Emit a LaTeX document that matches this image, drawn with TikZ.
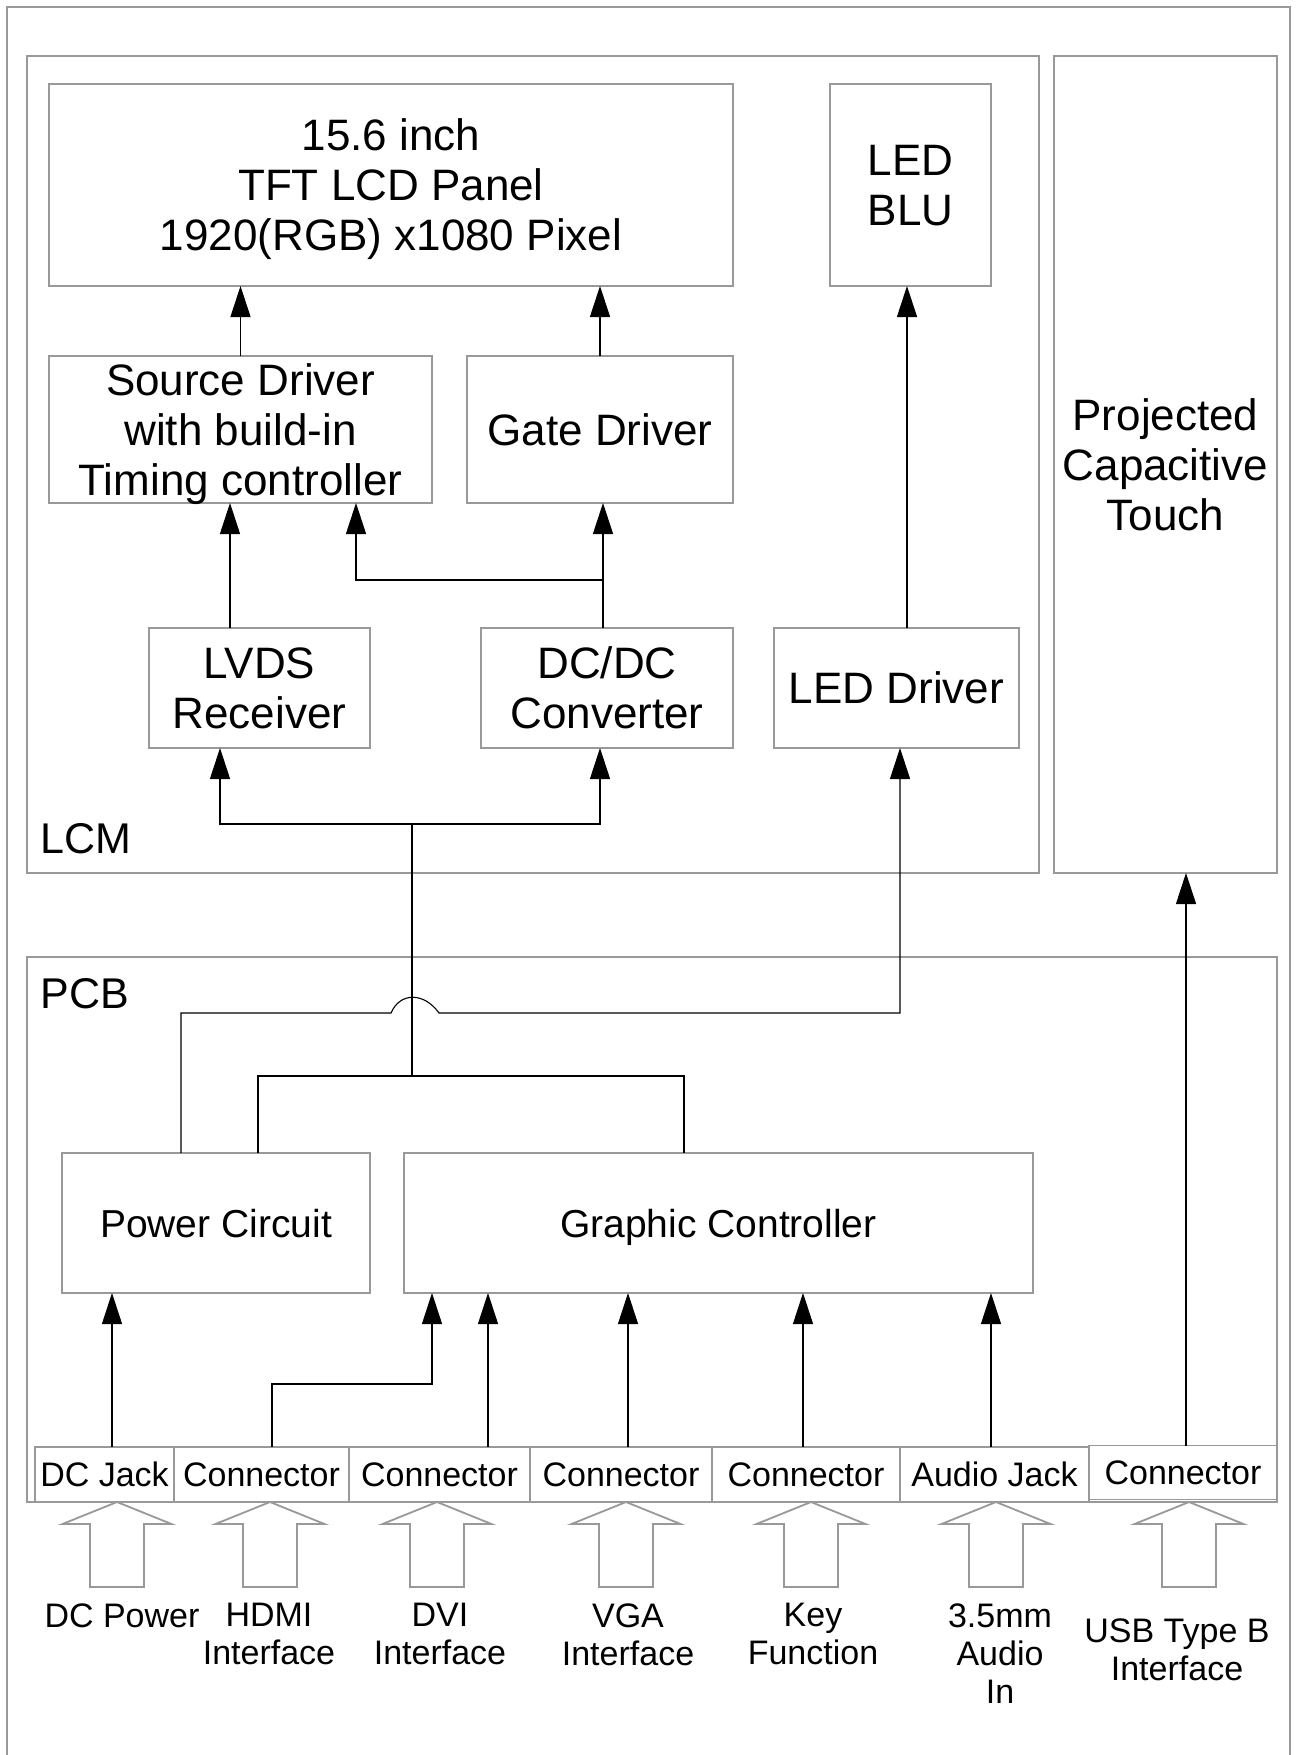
\documentclass[tikz,border=0pt]{standalone}
\usepackage{fontspec}
\setmainfont{Liberation Sans}
\usetikzlibrary{arrows.meta,positioning}

\begin{document}
\begin{tikzpicture}[
    x=0.5pt, y=-0.5pt,
    node distance=17.5pt,
    grp/.style={draw=black!40, line width=0.9pt, outer sep=0pt, inner sep=0pt},
    blk/.style={grp, align=center, text depth=0pt, font=\fontsize{22}{25}\selectfont},
    pcbblk/.style={blk, minimum height=70pt, font=\fontsize{19.5}{23}\selectfont},
    port/.style={blk, minimum height=27.5pt, font=\fontsize{17}{19}\selectfont},
    grplbl/.style={inner sep=0pt, anchor=base west, font=\fontsize{21.5}{25}\selectfont},
    lbl/.style={align=center, inner sep=0pt, anchor=north, font=\fontsize{17}{19}\selectfont},
    arr/.style={-{Triangle[length=15.5pt,width=10pt]}, line width=0.55pt},
    wire/.style={line width=0.55pt},
    inarrow/.style={draw=black!40, line width=0.9pt}
]
\path[use as bounding box, fill=white] (0,0) rectangle (1297,1755);
\draw[grp] (7,1755) -- (7,7) -- (1290,7) -- (1290,1755);

% --- LCM ---
\node[grp, minimum width=506pt, minimum height=408.5pt] (lcm) at (533,464.5) {};
\node[grplbl] (lcmlbl) at (40,853) {LCM};
\node[blk, minimum width=111.5pt, minimum height=408.5pt] (touch) at (1165.5,464.5) {Projected\\Capacitive\\Touch};
\node[blk, minimum width=342pt, minimum height=101pt] (panel) at (391,185) {15.6 inch\\TFT LCD Panel\\1920(RGB) x1080 Pixel};
\node[blk, minimum width=80.5pt, minimum height=101pt, right=48.5pt of panel] (blu) {LED\\BLU};
\node[blk, minimum width=191.5pt, minimum height=73.5pt] (src) at (240.5,429.5) {Source Driver\\with build-in\\Timing controller};
\node[blk, minimum width=133pt, minimum height=73.5pt, right=of src] (gate) {Gate Driver};
\node[blk, minimum width=110.5pt, minimum height=60pt] (lvds) at (259.5,688) {LVDS\\Receiver};
\node[blk, minimum width=126pt, minimum height=60pt, right=55.5pt of lvds] (dcdc) {DC/DC\\Converter};
\node[blk, minimum width=122.5pt, minimum height=60pt, right=20.5pt of dcdc] (ledd) {LED Driver};

% --- PCB ---
\node[grp, minimum width=625pt, minimum height=272.5pt] (pcb) at (652,1229.5) {};
\node[grplbl] (pcblbl) at (40,1008) {PCB};
\node[pcbblk, minimum width=154pt] (pwr) at (216,1223) {Power Circuit};
\node[pcbblk, minimum width=314.5pt, right=17pt of pwr] (gc) {Graphic Controller};

% --- connector row ---
\node[port, minimum width=69.5pt, anchor=north west] (dcj) at (35,1447) {DC Jack};
\node[port, minimum width=87.5pt, right=0pt of dcj] (hdmi) {Connector};
\node[port, minimum width=90.5pt, right=0pt of hdmi] (dvi) {Connector};
\node[port, minimum width=91pt, right=0pt of dvi] (vga) {Connector};
\node[port, minimum width=94pt, right=0pt of vga] (key) {Connector};
\node[port, minimum width=94.5pt, right=0pt of key] (aud) {Audio Jack};
\node[port, minimum width=94pt, minimum height=27pt, right=0pt of aud, yshift=1pt] (usb) {Connector};

% --- LCM signals ---
\draw[arr] (src.north) -- (src.north |- panel.south);
\draw[arr] (gate.north) -- (gate.north |- panel.south);
\draw[arr] ([xshift=5.25pt]ledd.north) -- ([xshift=5.25pt]ledd.north |- blu.south);
\draw[arr] ([xshift=-14.75pt]lvds.north) -- ([xshift=-14.75pt]lvds.north |- src.south);
\coordinate (dcsplit) at (603,580);
\draw[arr] ([xshift=-2pt]dcdc.north) -- ([xshift=-2pt]dcdc.north |- gate.south);
\draw[arr] (dcsplit) -| ([xshift=-38pt]src.south east);

% --- bus from PCB ---
\coordinate (bus) at (412,824);
\coordinate (hub) at (412,1076);
\draw[wire] (hub) -- (bus);
\draw[arr] (bus) -| ([xshift=-19.75pt]lvds.south);
\draw[arr] (bus) -| ([xshift=-3.5pt]dcdc.south);
\draw[wire] ([xshift=21pt]pwr.north) |- (hub) -| ([xshift=-17.25pt]gc.north);
\coordinate (hopl) at (391,1013);
\coordinate (hopr) at (439,1013);
\draw[arr] ([xshift=-17.5pt]pwr.north) |- (hopl) .. controls +(9,-21) and +(-15,-21) .. (hopr) -| ([xshift=1.75pt]ledd.south);

% --- inputs ---
\draw[arr] ([xshift=3.75pt]dcj.north) -- ([xshift=3.75pt]dcj.north |- pwr.south);
\draw[arr] ([xshift=5.25pt]hdmi.north) -- ++(0,-63) -| ([xshift=14pt]gc.south west);
\foreach \n/\dx in {dvi/24.25pt, vga/3.5pt, key/-1.5pt, aud/-1.75pt}
  \draw[arr] ([xshift=\dx]\n.north) -- ([xshift=\dx]\n.north |- gc.south);
\draw[arr] ([xshift=1.5pt]usb.north) -- ([xshift=1.5pt]usb.north |- touch.south);

\foreach \x in {117,270,437,626,811,996,1189}
  \draw[inarrow] (\x,1502) -- ++(54.5,22) -- ++(-27.5,0) -- ++(0,63) -- ++(-54,0) -- ++(0,-63) -- ++(-27.5,0) -- cycle;

\node[lbl] (inpow) at (122,1603) {DC Power};
\node[lbl] (inhdmi) at (269,1603) {HDMI\\Interface};
\node[lbl] (indvi) at (440,1603) {DVI\\Interface};
\node[lbl] (invga) at (628,1603) {VGA\\Interface};
\node[lbl] (inkey) at (813,1603) {Key\\Function};
\node[lbl] (inaud) at (1000,1603) {3.5mm\\Audio\\In};
\node[lbl] (inusb) at (1177,1618) {USB Type B\\Interface};
\end{tikzpicture}
\end{document}
